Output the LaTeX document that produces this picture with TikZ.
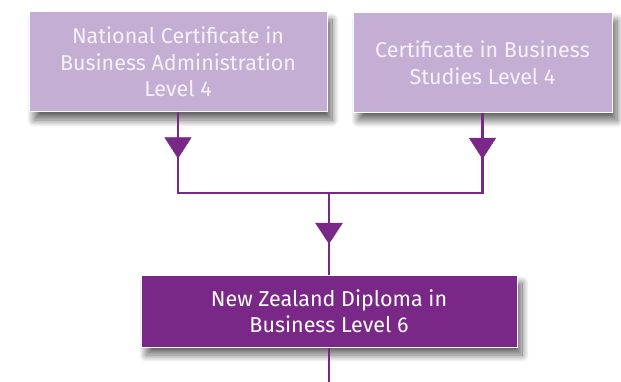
\documentclass[tikz,border=0pt]{standalone}
\usepackage{fontspec}
\setmainfont{Fira Sans}
\usetikzlibrary{shadows.blur,decorations.markings,arrows.meta}
\definecolor{lightpurp}{HTML}{C5AED3}
\definecolor{darkpurp}{HTML}{7A2887}
\definecolor{softwhite}{HTML}{F6F1F9}
\begin{document}
\begin{tikzpicture}[x=1pt,y=-1pt,
  box/.style={draw=white, line width=1pt, align=center, inner sep=0pt,
    font=\fontsize{21.5}{26.5}\selectfont,
    blur shadow={shadow xshift=5pt, shadow yshift=-8pt, shadow blur radius=7pt, shadow blur steps=14, shadow opacity=60}},
  lightbox/.style={box, fill=lightpurp, text=softwhite},
  darkbox/.style={box, fill=darkpurp, text=white},
  conn/.style={draw=darkpurp, line width=2.8pt},
  arrmark/.style={postaction={decorate}, decoration={markings,
    mark=at position #1 with {\arrow[darkpurp]{Triangle[width=27pt,length=21pt]}}}}
]
\useasboundingbox (0,0) rectangle (621,382);

\node[lightbox, minimum width=298pt, minimum height=100pt] (b1) at (178,62)
  {National Certificate in\\Business Administration\\Level 4};
\node[lightbox, minimum width=259pt, minimum height=100pt] (b2) at (482.5,62.5)
  {Certificate in Business\\Studies Level 4};
\node[darkbox, minimum width=376pt, minimum height=72pt] (b3) at (329,311)
  {New Zealand Diploma in\\Business Level 6};

\coordinate (j) at (329,193);
\coordinate (endc) at (329,382);

\draw[conn] (b1.south) |- (b2.south |- j) -- (b2.south);
\path[arrmark=46pt] (b1.south) -- (b1.south |- j);
\path[arrmark=46pt] (b2.south) -- (b2.south |- j);
\draw[conn, arrmark=51pt] (j) -- (b3.north);
\draw[conn] (b3.south) -- (endc);
\end{tikzpicture}
\end{document}
